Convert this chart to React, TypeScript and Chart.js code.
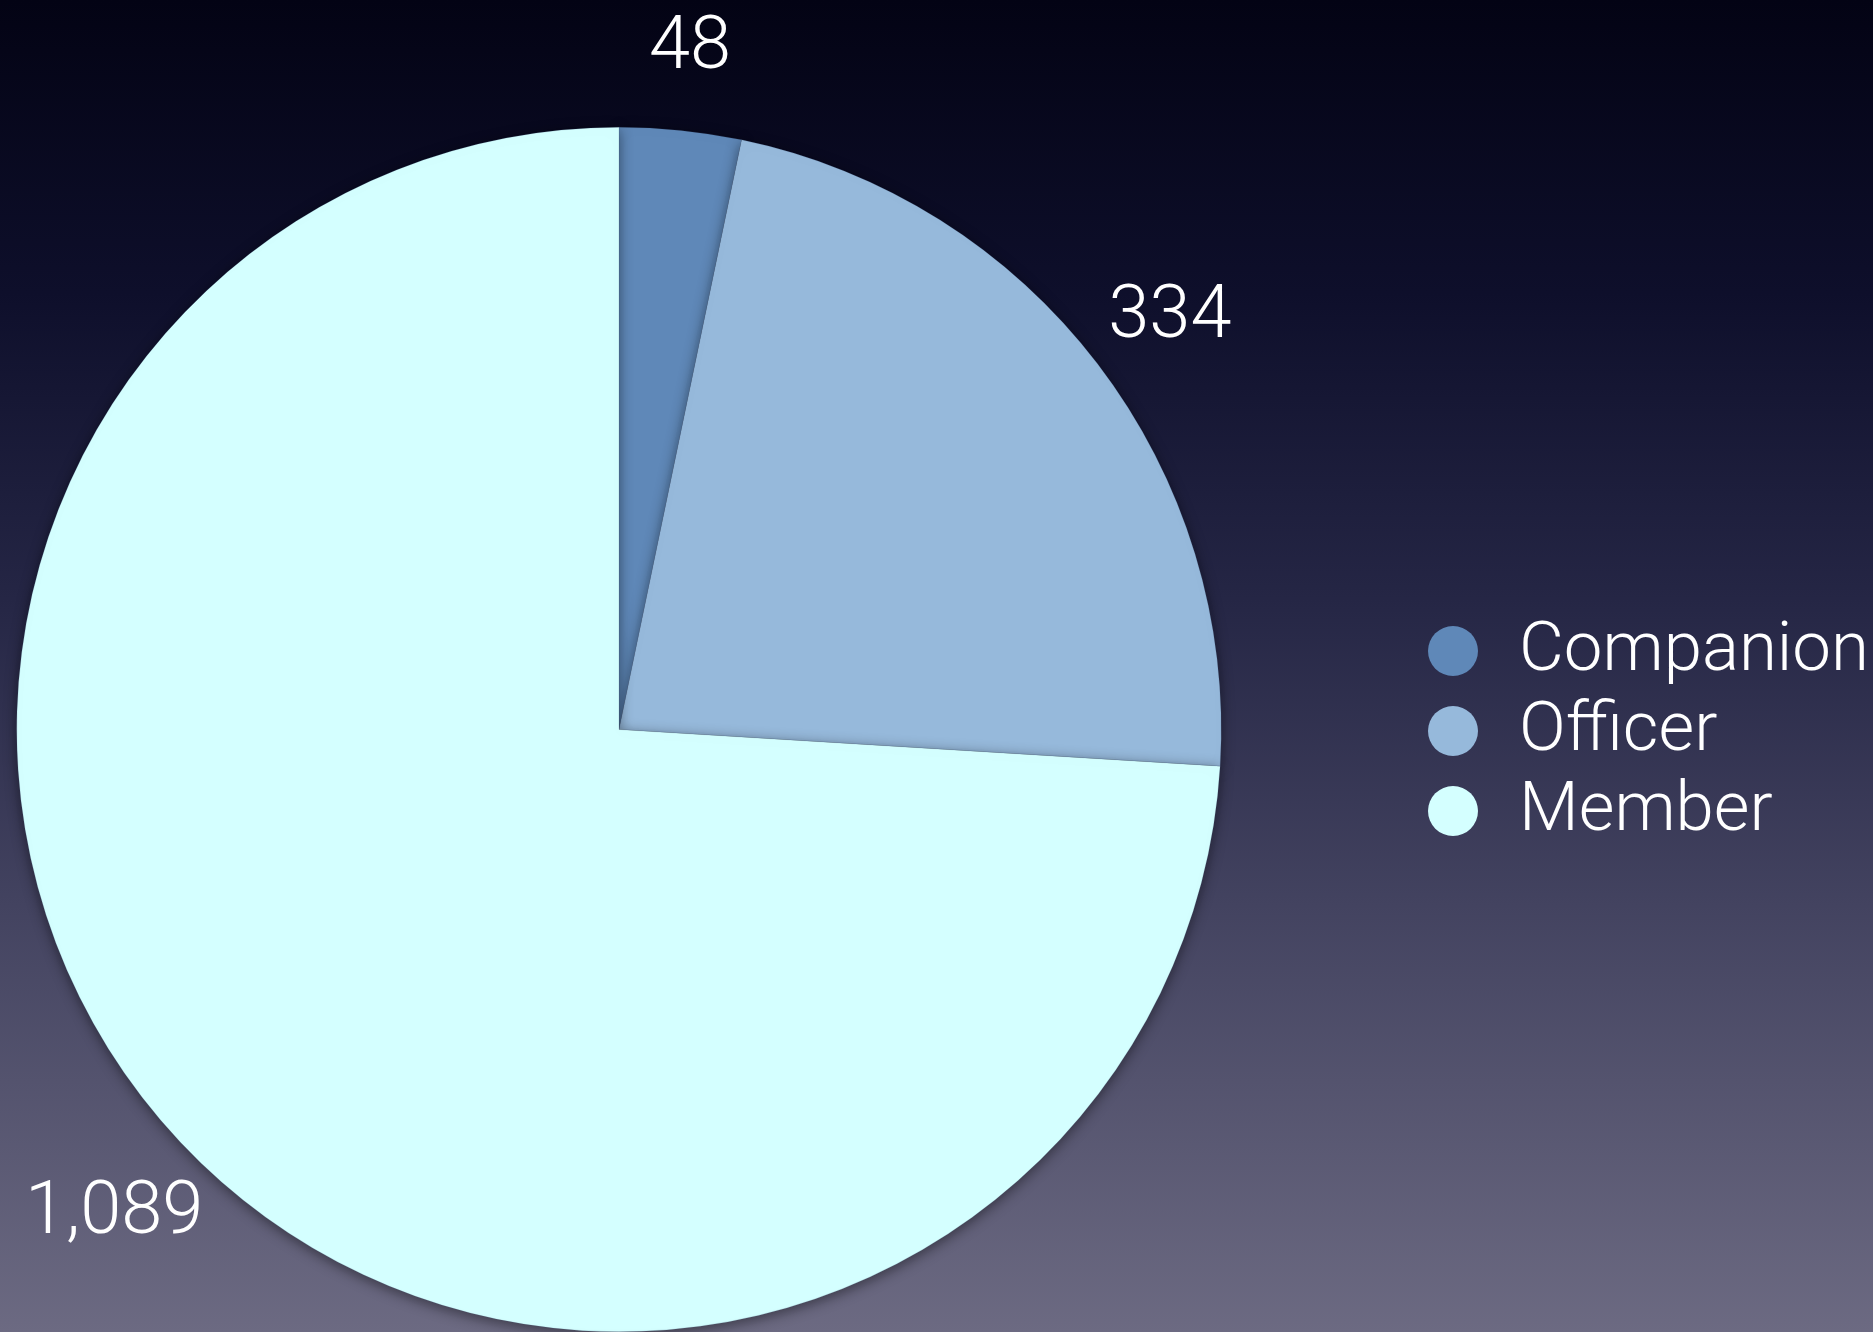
import React, { useEffect, useRef } from "react";
import { Chart, registerables } from "chart.js";

Chart.register(...registerables);

const categories = ["Companion", "Officer", "Member"];
const values = [48, 334, 1089];
const valueLabels = ["48", "334", "1,089"];
const sliceColors = ["#5f88b8", "#96b9db", "#d4ffff"];

const W = 1873;
const H = 1332;
const FONT = "Roboto, 'Helvetica Neue', 'Liberation Sans', sans-serif";

const backgroundPlugin = {
  id: "bgGradient",
  beforeDraw(chart: any) {
    const { ctx, width, height } = chart;
    const g = ctx.createLinearGradient(0, 0, 0, height);
    g.addColorStop(0, "#030314");
    g.addColorStop(0.22, "#0e0f2b");
    g.addColorStop(0.45, "#252645");
    g.addColorStop(0.68, "#434360");
    g.addColorStop(1, "#6c6a82");
    ctx.save();
    ctx.fillStyle = g;
    ctx.fillRect(0, 0, width, height);
    ctx.restore();
  },
  beforeDatasetsDraw(chart: any) {
    const ctx = chart.ctx;
    ctx.save();
    ctx.shadowColor = "rgba(0,0,0,0.45)";
    ctx.shadowBlur = 14;
    ctx.shadowOffsetY = 3;
  },
  afterDatasetsDraw(chart: any) {
    chart.ctx.restore();
  },
  afterDraw(chart: any) {
    const ctx = chart.ctx;
    const meta = chart.getDatasetMeta(0);
    ctx.save();
    ctx.fillStyle = "#ffffff";
    ctx.textAlign = "center";
    ctx.textBaseline = "middle";
    ctx.font = `300 74px ${FONT}`;
    meta.data.forEach((arc: any, i: number) => {
      const mid = (arc.startAngle + arc.endAngle) / 2;
      const r = arc.outerRadius + 91;
      const x = arc.x + Math.cos(mid) * r;
      const y = arc.y + Math.sin(mid) * r + 10;
      ctx.fillText(valueLabels[i], x, y);
    });
    // legend
    const lx = 1453;
    const ly = 651;
    const step = 80;
    ctx.textAlign = "left";
    ctx.font = `300 69px ${FONT}`;
    chart.data.labels.forEach((label: string, i: number) => {
      const cy = ly + i * step;
      ctx.beginPath();
      ctx.arc(lx, cy, 25, 0, Math.PI * 2);
      ctx.fillStyle = chart.data.datasets[0].backgroundColor[i];
      ctx.fill();
      ctx.fillStyle = "#ffffff";
      ctx.fillText(label, lx + 66, cy + 2);
    });
    ctx.restore();
  },
};

export default function App() {
  const ref = useRef<HTMLCanvasElement>(null);
  useEffect(() => {
    document.body.style.margin = "0";
    if (!ref.current) return;
    const chart = new Chart(ref.current, {
      type: "pie",
      data: {
        labels: categories,
        datasets: [
          {
            data: values,
            backgroundColor: sliceColors,
            borderColor: "rgba(70,90,130,0.35)",
            borderWidth: 0.5,
          },
        ],
      },
      options: {
        responsive: false,
        animation: false,
        layout: { padding: { left: 16, right: 651, top: 127, bottom: 0 } },
        plugins: {
          legend: { display: false },
          tooltip: { enabled: false },
        },
      },
      plugins: [backgroundPlugin],
    });
    return () => chart.destroy();
  }, []);
  return (
    <div style={{ width: W, height: H }}>
      <canvas ref={ref} width={W} height={H} style={{ display: "block" }} />
    </div>
  );
}
